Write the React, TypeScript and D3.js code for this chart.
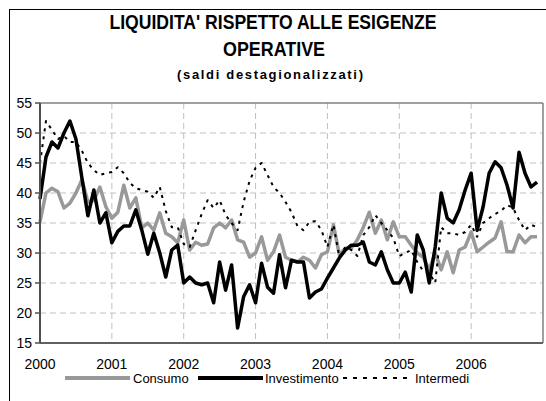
import React from 'react';
import * as d3 from 'd3';

// monthly, Jan 2000 - Dec 2006
const years = ['2000', '2001', '2002', '2003', '2004', '2005', '2006'];
const yTicks = [15, 20, 25, 30, 35, 40, 45, 50, 55];

const consumo = [
  35.2, 40, 40.8, 40.2, 37.5, 38.3, 40, 42.2, 38.5, 38.8, 41, 37.7,
  35.8, 36.8, 41.3, 37.5, 39.2, 34.2, 35, 33.8, 36.7, 33.3, 32.7, 31.7,
  35.5, 30.5, 31.8, 31.3, 31.5, 34.2, 35, 34.2, 35.5, 32.2, 31.8, 29.3,
  30, 32.7, 28.8, 30.2, 33, 29.3, 28.8, 28.5, 29.3, 28.8, 27.5, 29.7,
  30.2, 34.7, 29.7, 30.8, 30.8, 32.2, 34.3, 36.8, 33.3, 35.5, 32.2, 35.2,
  32.7, 32.7, 31.3, 30, 29.3, 27.2, 30, 27.2, 30.2, 26.7, 30.5, 31,
  33.5, 30.2, 31, 31.8, 32.5, 35.2, 30.2, 30.2, 33, 31.7, 32.7, 32.7,
];

const investimento = [
  39, 46, 48.5, 47.5, 50, 52, 49, 42.5, 36.2, 40.5, 35, 36.7,
  31.7, 33.6, 34.5, 34.5, 37.2, 33.8, 29.8, 33.3, 30, 26, 30.5, 31.3,
  25, 26, 25, 24.7, 25, 21.7, 28.5, 23.8, 28, 17.5, 22.7, 24.7,
  21.7, 28.3, 24.3, 23.3, 29.7, 24.2, 28.8, 28.5, 28.5, 22.5, 23.5, 24,
  25.8, 27.5, 29.2, 30.5, 31.3, 31.3, 31.8, 28.5, 28, 30.2, 27.2, 25,
  25, 26.8, 23.5, 33, 30.5, 25, 31, 40, 35.8, 35, 37.2, 40.5,
  43.3, 33.8, 37.7, 43.3, 45.2, 44.2, 41.3, 37.5, 46.8, 43.3, 41, 41.8,
];

const intermedi = [
  45, 52, 50.5, 49, 49.5, 48.5, 48.5, 47, 45, 43.8, 43, 43.3,
  43.5, 44.3, 43.3, 41.7, 40.8, 40.5, 40.2, 39.2, 41, 37, 34.3, 34.3,
  31.5, 31, 33.8, 36.5, 38.8, 37.5, 38.8, 36.3, 35, 33.8, 38.5, 42,
  44.2, 45, 43, 41, 40, 38.5, 36.8, 34.5, 33.8, 35.2, 35.3, 33.8,
  31, 34.7, 29.3, 31, 30.5, 29.5, 33, 34.3, 36.3, 35, 33.8, 32.5,
  29.5, 30, 30.5, 28.5, 27, 26.7, 25, 34.3, 33.3, 33.3, 33, 33.5,
  34.7, 32.7, 35, 35.8, 36.5, 37, 38, 37.5, 35.5, 33.8, 34.7, 34.3,
];

const series = [
  { name: 'Consumo', values: consumo, color: '#999999', width: 3.5, dash: null },
  { name: 'Investimento', values: investimento, color: '#000000', width: 3.5, dash: null },
  { name: 'Intermedi', values: intermedi, color: '#000000', width: 2, dash: '3,5' },
];

const font = '"Liberation Sans", Arial, sans-serif';

const App = () => {
  const left = 40;
  const right = 543;
  const top = 103;
  const bottom = 343;

  const x = d3.scaleLinear().domain([0, 84]).range([left, right]);
  const y = d3.scaleLinear().domain([15, 55]).range([bottom, top]);

  const line = d3
    .line<number>()
    .x((d, i) => x(i))
    .y(d => y(d));

  const legendItems = [
    { line: [65, 130], text: 133 },
    { line: [198, 263], text: 265 },
    { line: [343, 412], text: 415 },
  ];

  return (
    <svg
      width={546}
      height={401}
      style={{ position: 'absolute', left: 0, top: 0, background: '#fff' }}
      fontFamily={font}
    >
      <rect x={9.5} y={9.5} width={545} height={400} fill="#fff" stroke="#000" strokeWidth={1} />

      {/* titles */}
      <text x={273} y={29} textAnchor="middle" fontSize={20} fontWeight="bold" textLength={327} lengthAdjust="spacingAndGlyphs">
        LIQUIDITA' RISPETTO ALLE ESIGENZE
      </text>
      <text x={274} y={56} textAnchor="middle" fontSize={20} fontWeight="bold" textLength={102} lengthAdjust="spacingAndGlyphs">
        OPERATIVE
      </text>
      <text x={270} y={79} textAnchor="middle" fontSize={13} fontWeight="bold" textLength={186} lengthAdjust="spacing">
        (saldi destagionalizzati)
      </text>

      {/* grid */}
      {yTicks.filter(t => t > 15 && t < 55).map(t => (
        <line key={'h' + t} x1={left} x2={right} y1={y(t)} y2={y(t)} stroke="#c0c0c0" strokeDasharray="6,4" />
      ))}
      {years.slice(1).map((yr, k) => (
        <line key={'v' + yr} x1={x((k + 1) * 12)} x2={x((k + 1) * 12)} y1={top} y2={bottom} stroke="#c0c0c0" strokeDasharray="6,4" />
      ))}
      <line x1={left} x2={right} y1={top} y2={top} stroke="#808080" strokeWidth={1.5} />
      <line x1={right} x2={right} y1={top} y2={bottom} stroke="#808080" strokeWidth={1.5} />

      {/* series */}
      {series.map(s => (
        <path
          key={s.name}
          d={line(s.values) || ''}
          fill="none"
          stroke={s.color}
          strokeWidth={s.width}
          strokeDasharray={s.dash || undefined}
          strokeLinejoin="round"
        />
      ))}

      {/* axes */}
      <line x1={left} x2={right} y1={bottom} y2={bottom} stroke="#606060" strokeWidth={2} />
      <line x1={left} x2={left} y1={top} y2={bottom} stroke="#505050" strokeWidth={2} />
      {yTicks.map(t => (
        <g key={'yt' + t}>
          <line x1={35} x2={left} y1={y(t)} y2={y(t)} stroke="#505050" strokeWidth={1.5} />
          <text x={32} y={y(t)} dy="0.36em" textAnchor="end" fontSize={14}>
            {t}
          </text>
        </g>
      ))}
      {years.map((yr, k) => (
        <text key={'xt' + yr} x={x(k * 12)} y={369} textAnchor="middle" fontSize={14}>
          {yr}
        </text>
      ))}

      {/* legend */}
      {series.map((s, k) => (
        <g key={'lg' + s.name}>
          <line
            x1={legendItems[k].line[0]}
            x2={legendItems[k].line[1]}
            y1={378}
            y2={378}
            stroke={s.color}
            strokeWidth={s.dash ? 2 : 4}
            strokeDasharray={s.dash ? '4,6' : undefined}
          />
          <text x={legendItems[k].text} y={383} fontSize={13}>
            {s.name}
          </text>
        </g>
      ))}
    </svg>
  );
};

export default App;
